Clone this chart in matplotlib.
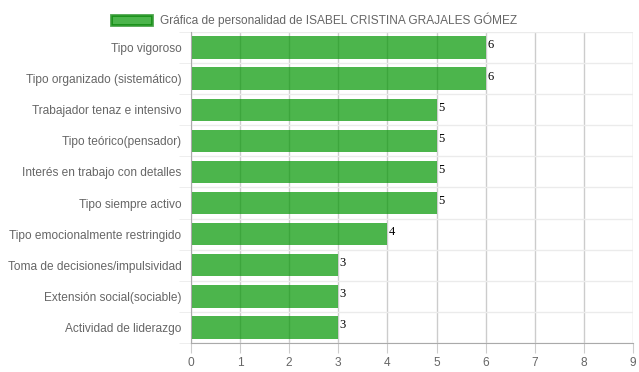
import matplotlib.pyplot as plt
from matplotlib.ticker import FixedLocator

categories = [
    "Tipo vigoroso",
    "Tipo organizado (sistemático)",
    "Trabajador tenaz e intensivo",
    "Tipo teórico(pensador)",
    "Interés en trabajo con detalles",
    "Tipo siempre activo",
    "Tipo emocionalmente restringido",
    "Toma de decisiones/impulsividad",
    "Extensión social(sociable)",
    "Actividad de liderazgo",
]
values = [6, 6, 5, 5, 5, 5, 4, 3, 3, 3]
x_ticks = list(range(0, 10))
legend_label = "Gráfica de personalidad de ISABEL CRISTINA GRAJALES GÓMEZ"

plt.rcParams["font.family"] = ["Liberation Sans", "DejaVu Sans"]
fs = 8.6

fig = plt.figure(figsize=(6.39, 3.72), dpi=100)
ax = fig.add_axes([191 / 639, 1 - 343 / 372, 442 / 639, 311 / 372])

y = list(range(len(categories)))
bars = ax.barh(y, values, height=0.72, color=(0, 150 / 255, 0), alpha=0.7,
               edgecolor="none", label=legend_label, zorder=2)

ax.set_ylim(len(categories) - 0.5, -0.5)
ax.set_xlim(0, 9)
ax.set_xticks(x_ticks)
ax.set_yticks(y)
ax.set_yticklabels(categories)

# vertical grid (major x), horizontal grid between categories
ax.grid(axis="x", color="#cccccc", linewidth=1, zorder=1)
ax.yaxis.set_minor_locator(FixedLocator([i - 0.5 for i in range(len(categories) + 1)]))
ax.grid(axis="y", which="minor", color="#ebebeb", linewidth=1, zorder=1)
ax.set_axisbelow(True)

ax.tick_params(axis="x", length=7, color="#cccccc", labelcolor="#666666",
               labelsize=fs, pad=3)
ax.tick_params(axis="y", which="major", length=0, labelcolor="#666666",
               labelsize=fs, pad=7)
ax.tick_params(axis="y", which="minor", length=9, color="#ebebeb")

for s in ["top", "right"]:
    ax.spines[s].set_visible(False)
ax.spines["left"].set_color("#aaaaaa")
ax.spines["bottom"].set_color("#aaaaaa")

for b, v in zip(bars, values):
    ax.annotate(str(v), (b.get_width(), b.get_y() + b.get_height() / 2),
                xytext=(1, 1.5), textcoords="offset points", ha="left", va="center",
                fontsize=9, family=["Liberation Serif", "DejaVu Serif"], color="black")

leg = fig.legend(handles=[bars], labels=[legend_label], loc="upper center",
                 bbox_to_anchor=(0.492, 0.995), frameon=False, fontsize=fs,
                 handlelength=3.4, handleheight=1.0, handletextpad=0.7)
for h in leg.legend_handles:
    h.set_edgecolor("#008000")
    h.set_linewidth(2)
for t in leg.get_texts():
    t.set_color("#666666")

fig.savefig("out.png", dpi=100)
